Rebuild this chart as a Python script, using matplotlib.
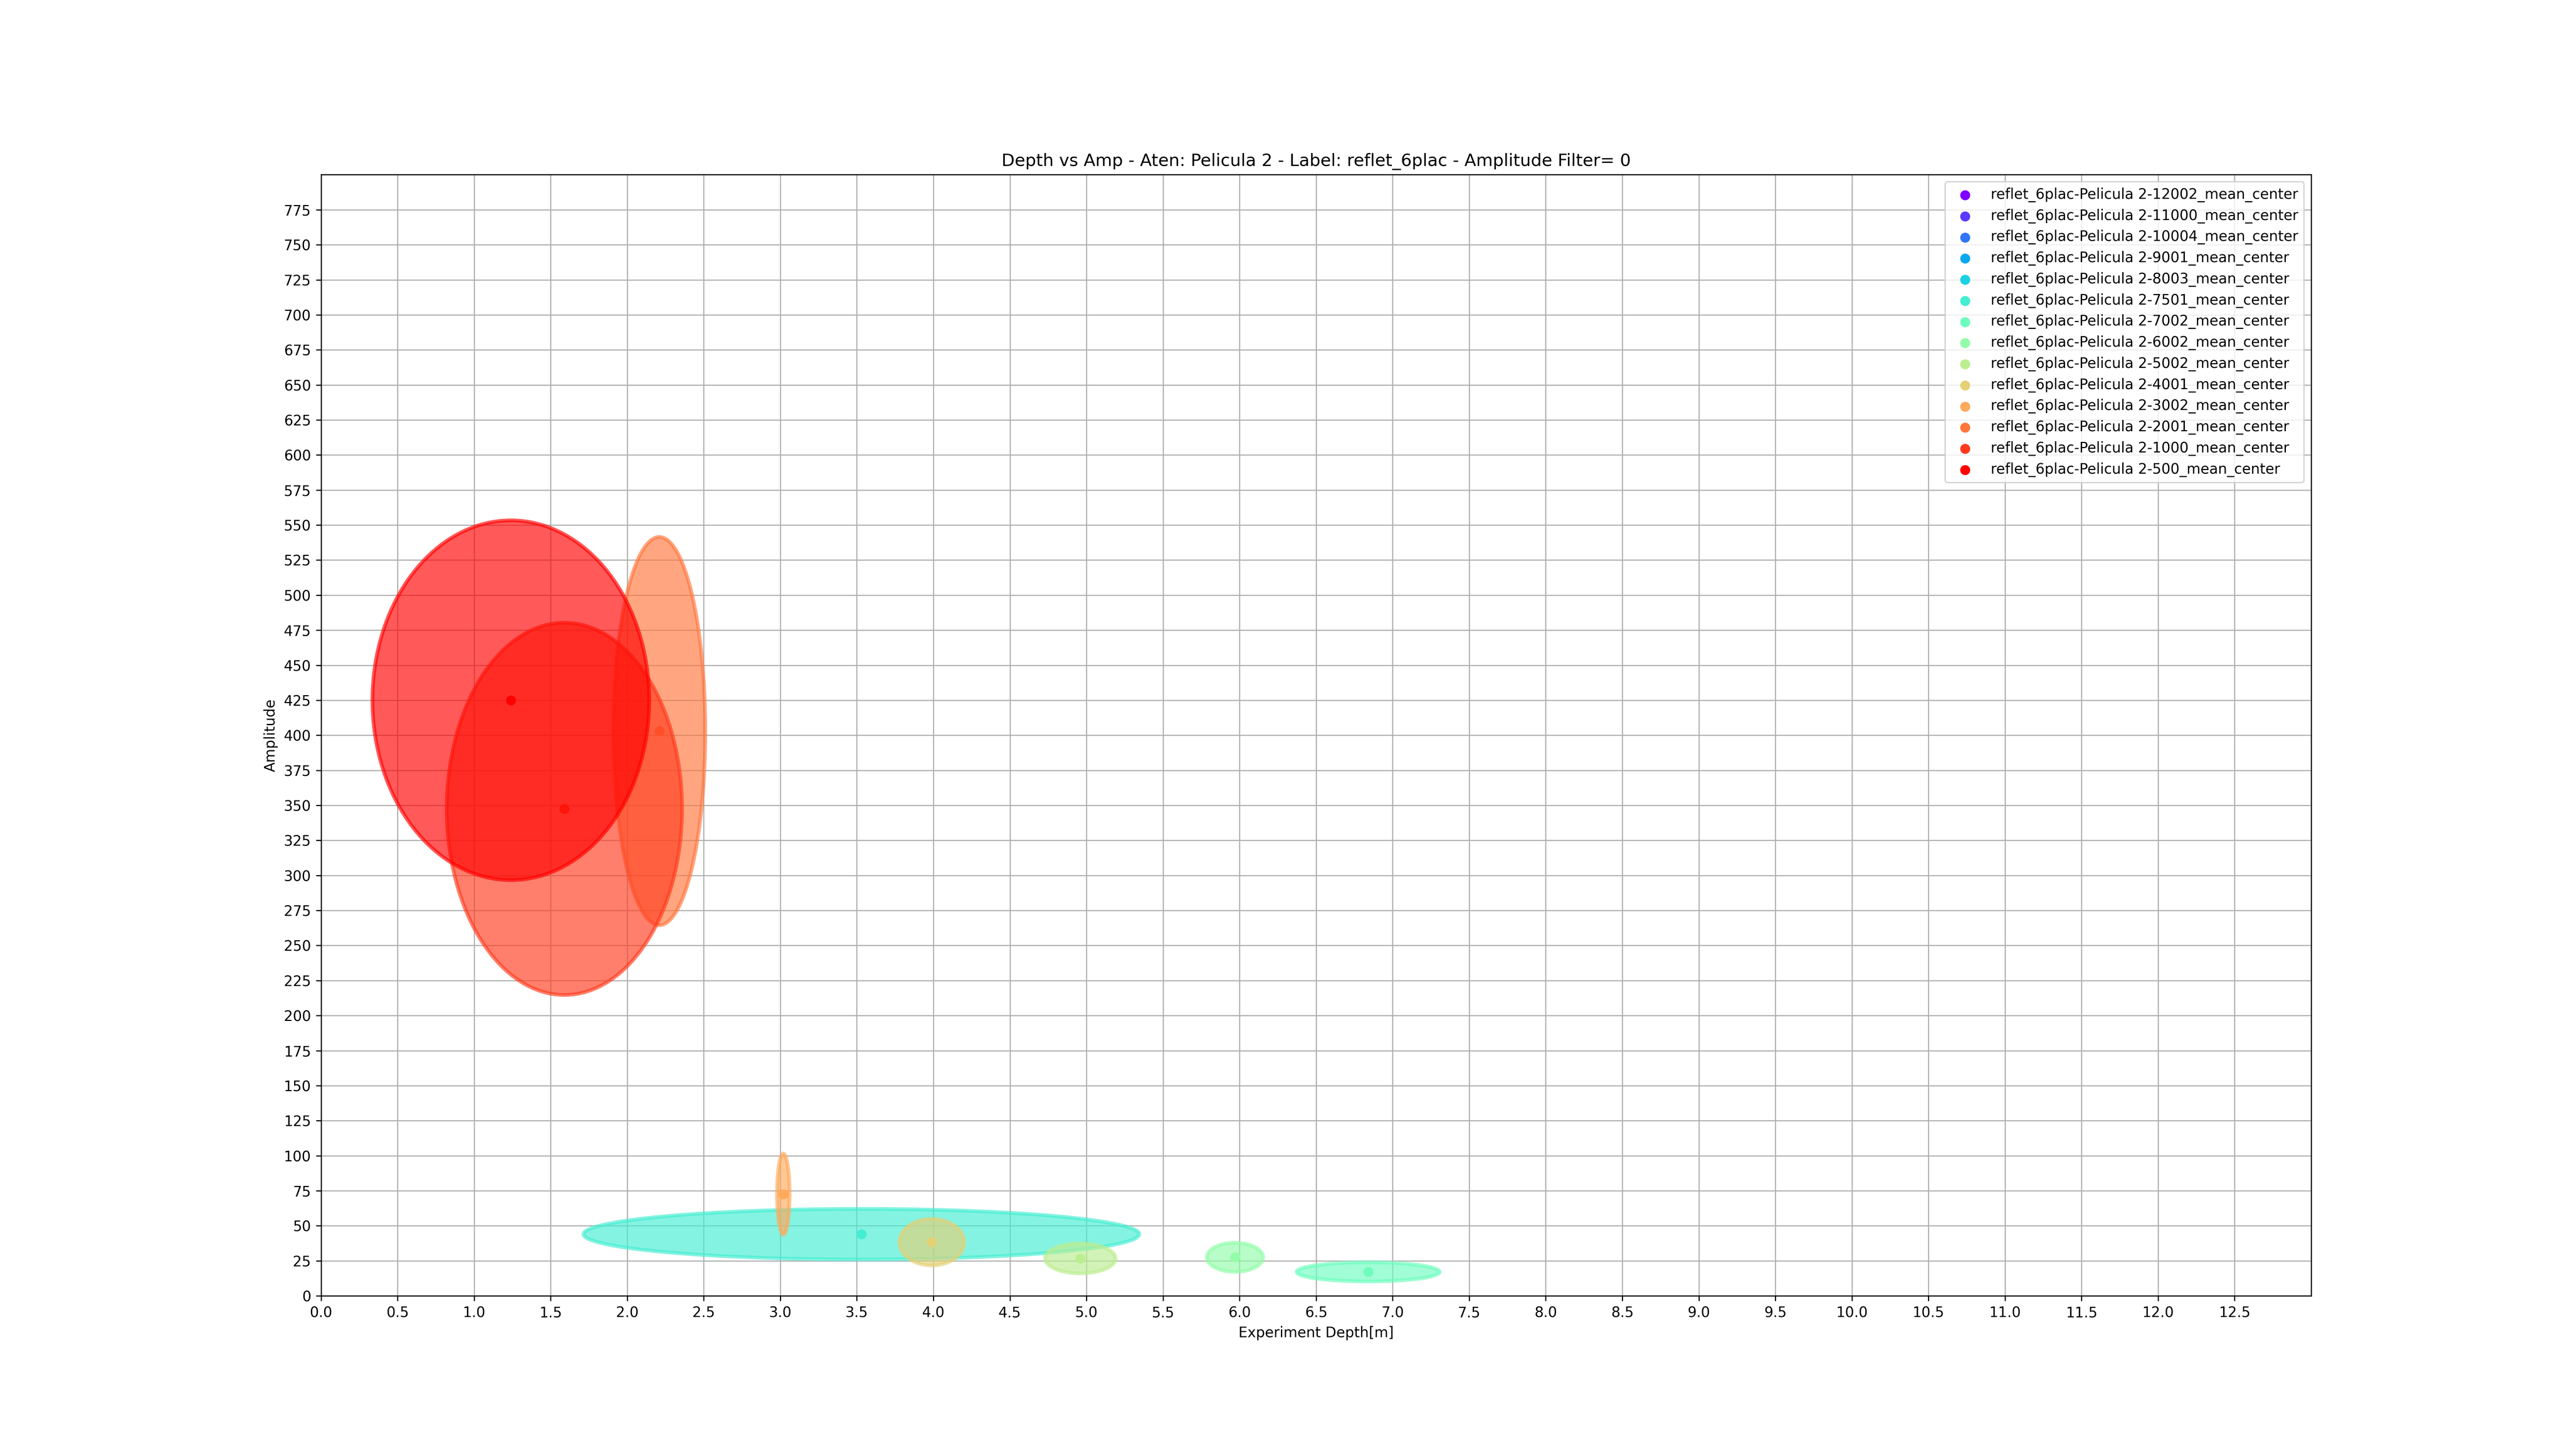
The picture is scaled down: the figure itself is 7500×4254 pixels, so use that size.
import numpy as np
import matplotlib
matplotlib.use("Agg")
import matplotlib.pyplot as plt
from matplotlib.patches import Ellipse

labels = ["12002", "11000", "10004", "9001", "8003", "7501", "7002",
          "6002", "5002", "4001", "3002", "2001", "1000", "500"]
center_x = [np.nan, np.nan, np.nan, np.nan, np.nan, 3.53, 6.84,
            5.97, 4.96, 3.99, 3.02, 2.21, 1.59, 1.24]
center_y = [np.nan, np.nan, np.nan, np.nan, np.nan, 44.0, 17.1,
            27.5, 26.7, 38.3, 72.6, 403.0, 347.5, 425.0]
ell_w = [np.nan, np.nan, np.nan, np.nan, np.nan, 3.63, 0.935,
         0.368, 0.461, 0.424, 0.082, 0.60, 1.537, 1.808]
ell_h = [np.nan, np.nan, np.nan, np.nan, np.nan, 36.1, 13.7,
         20.8, 21.4, 33.2, 57.8, 277.0, 265.6, 256.7]

title = "Depth vs Amp - Aten: Pelicula 2 - Label: reflet_6plac - Amplitude Filter= 0"
prefix = "reflet_6plac-Pelicula 2-"

fig, ax = plt.subplots(figsize=(25, 14.18), dpi=300)
colors = plt.cm.rainbow(np.linspace(0, 1, len(labels)))

for i, lab in enumerate(labels):
    c = colors[i]
    cx, cy = center_x[i], center_y[i]
    if np.isnan(cx):
        ax.scatter([], [], color=c, label=prefix + lab + "_mean_center")
        continue
    ax.scatter([cx], [cy], color=c, label=prefix + lab + "_mean_center")
    e = Ellipse((cx, cy), ell_w[i], ell_h[i], facecolor=c, edgecolor=c,
                alpha=0.65, linewidth=2.6)
    ax.add_patch(e)

ax.set_xlim(0, 13)
ax.set_ylim(0, 800)
ax.set_xticks(np.arange(0, 13, 0.5))
ax.set_yticks(np.arange(0, 800, 25))
ax.grid(True)
ax.set_axisbelow(True)
ax.set_title(title)
ax.set_xlabel("Experiment Depth[m]")
ax.set_ylabel("Amplitude")
ax.legend(loc="upper right", labelspacing=0.45)

fig.savefig("out.png", dpi=300)
